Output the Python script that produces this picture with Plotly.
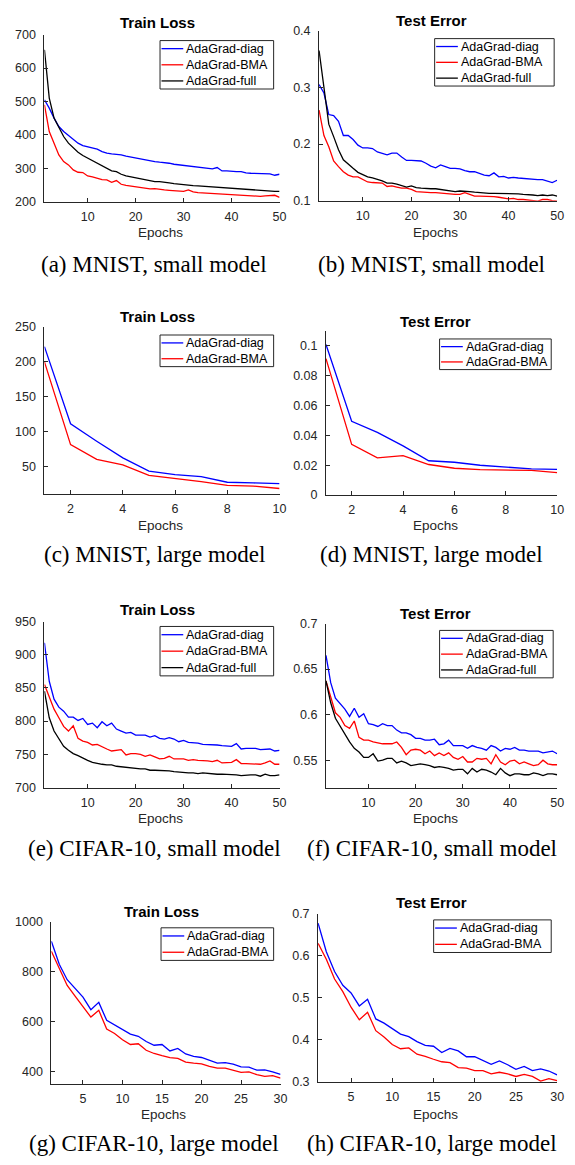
import plotly.graph_objects as go

# ---------------- data ----------------
epochs_50 = list(range(1, 51))
epochs_10 = list(range(1, 11))
epochs_30 = list(range(1, 31))

series_names = ["AdaGrad-diag", "AdaGrad-BMA", "AdaGrad-full"]

# (a) MNIST small, Train Loss
a_diag = [505, 480, 450, 425, 410, 398, 385, 375, 368, 365, 360, 357, 350, 345, 343, 342, 340, 336, 333, 330,
          327, 325, 322, 320, 318, 317, 315, 312, 310, 308, 307, 305, 303, 300, 298, 298, 302, 292, 292, 290,
          290, 290, 286, 285, 284, 283, 284, 283, 279, 282]
a_bma = [490, 410, 375, 340, 320, 310, 295, 288, 287, 277, 274, 270, 266, 265, 258, 263, 252, 249, 247, 245,
         242, 241, 238, 239, 236, 235, 234, 233, 232, 231, 235, 229, 227, 226, 226, 225, 224, 223, 222, 221,
         220, 220, 219, 218, 217, 216, 217, 218, 219, 213]
a_full = [655, 510, 450, 420, 395, 375, 360, 348, 338, 330, 322, 315, 308, 300, 292, 290, 282, 277, 274, 272,
          270, 265, 262, 260, 260, 257, 256, 254, 252, 250, 249, 248, 247, 246, 245, 243, 242, 241, 240, 239,
          238, 237, 236, 235, 234, 233, 232, 232, 231, 231]

# (b) MNIST small, Test Error
b_diag = [0.305, 0.29, 0.252, 0.25, 0.24, 0.215, 0.215, 0.208, 0.198, 0.193, 0.193, 0.192, 0.186, 0.184, 0.181,
          0.184, 0.184, 0.177, 0.171, 0.171, 0.171, 0.170, 0.166, 0.161, 0.158, 0.163, 0.160, 0.157, 0.157, 0.156,
          0.153, 0.151, 0.151, 0.148, 0.145, 0.144, 0.149, 0.142, 0.143, 0.140, 0.141, 0.140, 0.139, 0.138, 0.138,
          0.137, 0.137, 0.135, 0.132, 0.136]
b_bma = [0.26, 0.215, 0.195, 0.17, 0.16, 0.151, 0.145, 0.142, 0.142, 0.137, 0.133, 0.132, 0.131, 0.131, 0.125,
         0.126, 0.124, 0.122, 0.122, 0.120, 0.116, 0.115, 0.115, 0.114, 0.114, 0.113, 0.113, 0.112, 0.111, 0.111,
         0.114, 0.111, 0.108, 0.108, 0.108, 0.107, 0.107, 0.106, 0.105, 0.103, 0.104, 0.102, 0.102, 0.101, 0.100,
         0.099, 0.102, 0.102, 0.100, 0.099]
b_full = [0.365, 0.30, 0.235, 0.213, 0.19, 0.172, 0.164, 0.157, 0.150, 0.146, 0.142, 0.140, 0.138, 0.135, 0.131,
          0.131, 0.129, 0.127, 0.124, 0.126, 0.123, 0.122, 0.121, 0.121, 0.121, 0.120, 0.119, 0.117, 0.116, 0.117,
          0.117, 0.116, 0.115, 0.114, 0.114, 0.113, 0.113, 0.113, 0.113, 0.112, 0.112, 0.112, 0.111, 0.111, 0.110,
          0.109, 0.110, 0.109, 0.110, 0.108]

# (c) MNIST large, Train Loss
c_diag = [222, 111, 86, 62, 43, 38, 35, 27, 26, 25]
c_bma = [200, 81, 60, 52, 37, 33, 28, 22.5, 21.5, 18]

# (d) MNIST large, Test Error
d_diag = [0.101, 0.0495, 0.042, 0.033, 0.023, 0.022, 0.020, 0.0185, 0.0175, 0.0172]
d_bma = [0.0915, 0.034, 0.025, 0.0265, 0.0205, 0.018, 0.017, 0.0165, 0.0165, 0.015]

# (e) CIFAR-10 small, Train Loss
e_diag = [918, 860, 833, 821, 815, 806, 806, 801, 804, 795, 797, 790, 799, 793, 797, 788, 785, 782, 783, 779,
          779, 779, 776, 778, 774, 773, 775, 773, 769, 771, 768, 768, 767, 765, 765, 764, 764, 763, 762, 762,
          766, 758, 759, 759, 759, 757, 757, 758, 755, 756]
e_bma = [855, 835, 818, 805, 792, 785, 793, 774, 770, 768, 764, 765, 761, 758, 755, 756, 757, 749, 751, 751,
         750, 747, 749, 746, 743, 744, 747, 743, 743, 743, 741, 742, 741, 741, 740, 739, 741, 737, 737, 738,
         742, 736, 736, 736, 735, 735, 737, 740, 735, 735]
e_full = [845, 805, 785, 773, 762, 756, 751, 748, 744, 741, 738, 736, 735, 734, 734, 732, 731, 731, 730, 729,
          728, 728, 726, 726, 726, 725, 725, 724, 723, 722, 722, 722, 721, 722, 721, 721, 720, 720, 720, 719,
          719, 718, 719, 719, 719, 717, 720, 718, 718, 719]

# (f) CIFAR-10 small, Test Error
f_diag = [0.665, 0.635, 0.618, 0.612, 0.606, 0.598, 0.607, 0.597, 0.601, 0.590, 0.589, 0.587, 0.590, 0.588, 0.588,
          0.583, 0.580, 0.580, 0.578, 0.574, 0.574, 0.572, 0.572, 0.573, 0.567, 0.568, 0.572, 0.566, 0.566, 0.566,
          0.563, 0.566, 0.564, 0.563, 0.561, 0.566, 0.564, 0.560, 0.563, 0.562, 0.564, 0.561, 0.561, 0.560, 0.560,
          0.560, 0.558, 0.559, 0.560, 0.557]
f_bma = [0.637, 0.620, 0.602, 0.597, 0.588, 0.585, 0.593, 0.575, 0.572, 0.572, 0.570, 0.569, 0.568, 0.568, 0.568,
         0.570, 0.564, 0.556, 0.561, 0.562, 0.561, 0.557, 0.560, 0.555, 0.558, 0.555, 0.558, 0.553, 0.551, 0.554,
         0.548, 0.548, 0.552, 0.551, 0.552, 0.546, 0.556, 0.548, 0.545, 0.549, 0.550, 0.546, 0.548, 0.546, 0.544,
         0.545, 0.550, 0.546, 0.545, 0.545]
f_full = [0.637, 0.613, 0.596, 0.587, 0.578, 0.570, 0.563, 0.559, 0.553, 0.553, 0.557, 0.549, 0.550, 0.552, 0.552,
          0.547, 0.549, 0.547, 0.544, 0.545, 0.546, 0.545, 0.544, 0.542, 0.543, 0.542, 0.541, 0.539, 0.540, 0.540,
          0.535, 0.541, 0.537, 0.540, 0.539, 0.537, 0.534, 0.541, 0.536, 0.533, 0.535, 0.535, 0.534, 0.534, 0.536,
          0.535, 0.533, 0.535, 0.535, 0.534]

# (g) CIFAR-10 large, Train Loss
g_diag = [922, 830, 768, 733, 698, 648, 677, 605, 587, 568, 550, 541, 520, 505, 508, 482, 492, 470, 460, 456,
          444, 433, 435, 429, 418, 417, 405, 406, 398, 388]
g_bma = [882, 812, 745, 702, 660, 618, 645, 570, 552, 527, 508, 511, 485, 472, 463, 455, 452, 437, 433, 430,
         420, 413, 413, 404, 396, 398, 387, 380, 383, 373]

# (h) CIFAR-10 large, Test Error
h_diag = [0.678, 0.610, 0.563, 0.530, 0.512, 0.481, 0.497, 0.450, 0.440, 0.428, 0.414, 0.408, 0.396, 0.387, 0.385,
          0.370, 0.380, 0.374, 0.360, 0.360, 0.351, 0.342, 0.350, 0.341, 0.330, 0.337, 0.327, 0.331, 0.326, 0.317]
h_bma = [0.630, 0.592, 0.545, 0.515, 0.478, 0.448, 0.466, 0.422, 0.407, 0.389, 0.379, 0.381, 0.366, 0.361, 0.354,
         0.348, 0.346, 0.334, 0.333, 0.327, 0.327, 0.319, 0.323, 0.319, 0.313, 0.318, 0.313, 0.302, 0.308, 0.303]

# tick values
xt_50 = [10, 20, 30, 40, 50]
xt_10 = [2, 4, 6, 8, 10]
xt_30 = [5, 10, 15, 20, 25, 30]
yt_a = [200, 300, 400, 500, 600, 700]
yt_b = [0.1, 0.2, 0.3, 0.4]
yt_c = [50, 100, 150, 200, 250]
yt_d = [0, 0.02, 0.04, 0.06, 0.08, 0.1]
yt_e = [700, 750, 800, 850, 900, 950]
yt_f = [0.55, 0.6, 0.65, 0.7]
yt_g = [400, 600, 800, 1000]
yt_h = [0.3, 0.4, 0.5, 0.6, 0.7]

titles = ["Train Loss", "Test Error"] * 4
captions = ["(a) MNIST, small model", "(b) MNIST, small model",
            "(c) MNIST, large model", "(d) MNIST, large model",
            "(e) CIFAR-10, small model", "(f) CIFAR-10, small model",
            "(g) CIFAR-10, large model", "(h) CIFAR-10, large model"]

# ---------------- layout ----------------
W, H = 575, 1165
colors = ["#0000ff", "#ff0000", "#000000"]
SANS = "Liberation Sans, Arial, Helvetica, sans-serif"
SERIF = "Liberation Serif, Times New Roman, serif"
AX = "#262626"


def xp(px):
    return px / W


def yp(py):
    return 1 - py / H


# dom = (left, right, top, bottom) px ; leg = (left, top, width, height) px
panels = [
    dict(x=epochs_50, ys=[a_diag, a_bma, a_full], xt=xt_50, xr=[1, 50], yt=yt_a, yr=[200, 700],
         dom=(45, 283, 28, 197), title=(159, 16), leg=(162, 34, 115, 49), cap=(156, 261), xl=(162, 228)),
    dict(x=epochs_50, ys=[b_diag, b_bma, b_full], xt=xt_50, xr=[1, 50], yt=yt_b, yr=[0.1, 0.4],
         dom=(323, 564, 24, 196), title=(437, 14), leg=(440, 32, 121, 48), cap=(437, 261), xl=(441, 228)),
    dict(x=epochs_10, ys=[c_diag, c_bma], xt=xt_10, xr=[1, 10], yt=yt_c, yr=[10, 250],
         dom=(45, 283, 324, 493), title=(159, 313), leg=(162, 332, 115, 32), cap=(156, 554), xl=(162, 525)),
    dict(x=epochs_10, ys=[d_diag, d_bma], xt=xt_10, xr=[1, 10], yt=yt_d, yr=[0, 0.11],
         dom=(330, 564, 328, 494), title=(441, 318), leg=(445, 336, 113, 31), cap=(437, 554), xl=(441, 525)),
    dict(x=epochs_50, ys=[e_diag, e_bma, e_full], xt=xt_50, xr=[1, 50], yt=yt_e, yr=[700, 950],
         dom=(45, 283, 622, 790), title=(159, 610), leg=(162, 627, 115, 50), cap=(156, 852), xl=(162, 821)),
    dict(x=epochs_50, ys=[f_diag, f_bma, f_full], xt=xt_50, xr=[1, 50], yt=yt_f, yr=[0.52, 0.7],
         dom=(330, 564, 624, 790), title=(441, 614), leg=(445, 631, 115, 48), cap=(437, 852), xl=(441, 821)),
    dict(x=epochs_30, ys=[g_diag, g_bma], xt=xt_30, xr=[1, 30], yt=yt_g, yr=[350, 1000],
         dom=(52, 284, 926, 1090), title=(163, 915), leg=(163, 932, 114, 33), cap=(156, 1150), xl=(166, 1121)),
    dict(x=epochs_30, ys=[h_diag, h_bma], xt=xt_30, xr=[1, 30], yt=yt_h, yr=[0.3, 0.7],
         dom=(322, 564, 918, 1088), title=(437, 906), leg=(439, 924, 119, 33), cap=(437, 1150), xl=(441, 1121)),
]

fig = go.Figure()
annotations = []
shapes = []
layout = dict(width=W, height=H, autosize=False, margin=dict(l=0, r=0, t=0, b=0),
              plot_bgcolor="white", paper_bgcolor="white", showlegend=False)

for i, p in enumerate(panels):
    n = i + 1
    xa = "xaxis" if n == 1 else f"xaxis{n}"
    ya = "yaxis" if n == 1 else f"yaxis{n}"
    xref = "x" if n == 1 else f"x{n}"
    yref = "y" if n == 1 else f"y{n}"
    for k, ys in enumerate(p["ys"]):
        fig.add_trace(go.Scatter(x=p["x"], y=ys, mode="lines", name=series_names[k],
                                 line=dict(color=colors[k], width=1.3),
                                 xaxis=xref, yaxis=yref))
    x0, x1, y0, y1 = p["dom"]
    common = dict(showline=True, linecolor=AX, linewidth=1, ticks="inside", ticklen=4, tickcolor=AX,
                  showgrid=False, zeroline=False, tickfont=dict(family=SANS, size=12.5, color=AX),
                  mirror=False)
    layout[xa] = dict(domain=[xp(x0), xp(x1)], range=p["xr"], tickvals=p["xt"], anchor=yref,
                      ticklabelstandoff=3, **common)
    layout[ya] = dict(domain=[yp(y1), yp(y0)], range=p["yr"], tickvals=p["yt"], anchor=xref,
                      ticklabelstandoff=5, **common)

    # legend box (drawn as layout decoration)
    lx, ly, lw, lh = p["leg"]
    nser = len(p["ys"])
    shapes.append(dict(type="rect", xref="paper", yref="paper", x0=xp(lx), x1=xp(lx + lw),
                       y0=yp(ly + lh), y1=yp(ly), line=dict(color=AX, width=1), fillcolor="white",
                       layer="above"))
    row_h = lh / nser
    for k in range(nser):
        ry = ly + row_h * (k + 0.5)
        shapes.append(dict(type="line", xref="paper", yref="paper", x0=xp(lx + 1.5), x1=xp(lx + 23.5),
                           y0=yp(ry), y1=yp(ry), line=dict(color=colors[k], width=1.3), layer="above"))
        annotations.append(dict(x=xp(lx + 24.5), y=yp(ry), xref="paper", yref="paper",
                                text=series_names[k], showarrow=False, xanchor="left", yanchor="middle",
                                font=dict(family=SANS, size=12.5, color="#000000")))

    annotations.append(dict(x=xp(p["title"][0]), y=yp(p["title"][1]), xref="paper", yref="paper",
                            text="<b>" + titles[i] + "</b>", showarrow=False,
                            xanchor="center", yanchor="middle",
                            font=dict(family=SANS, size=15, color="#000000")))
    annotations.append(dict(x=xp(p["xl"][0]), y=yp(p["xl"][1]), xref="paper", yref="paper",
                            text="Epochs", showarrow=False, xanchor="center", yanchor="middle",
                            font=dict(family=SANS, size=13.5, color=AX)))
    annotations.append(dict(x=xp(p["cap"][0]), y=yp(p["cap"][1]), xref="paper", yref="paper",
                            text=captions[i], showarrow=False, xanchor="center", yanchor="middle",
                            font=dict(family=SERIF, size=23, color="#000000")))

layout["annotations"] = annotations
layout["shapes"] = shapes
fig.update_layout(**layout)
fig.write_html("out.html",
               config={"displayModeBar": False},
               post_script="document.body.style.margin='0px';document.body.style.padding='0px';"
                           "document.documentElement.style.overflow='hidden';")
